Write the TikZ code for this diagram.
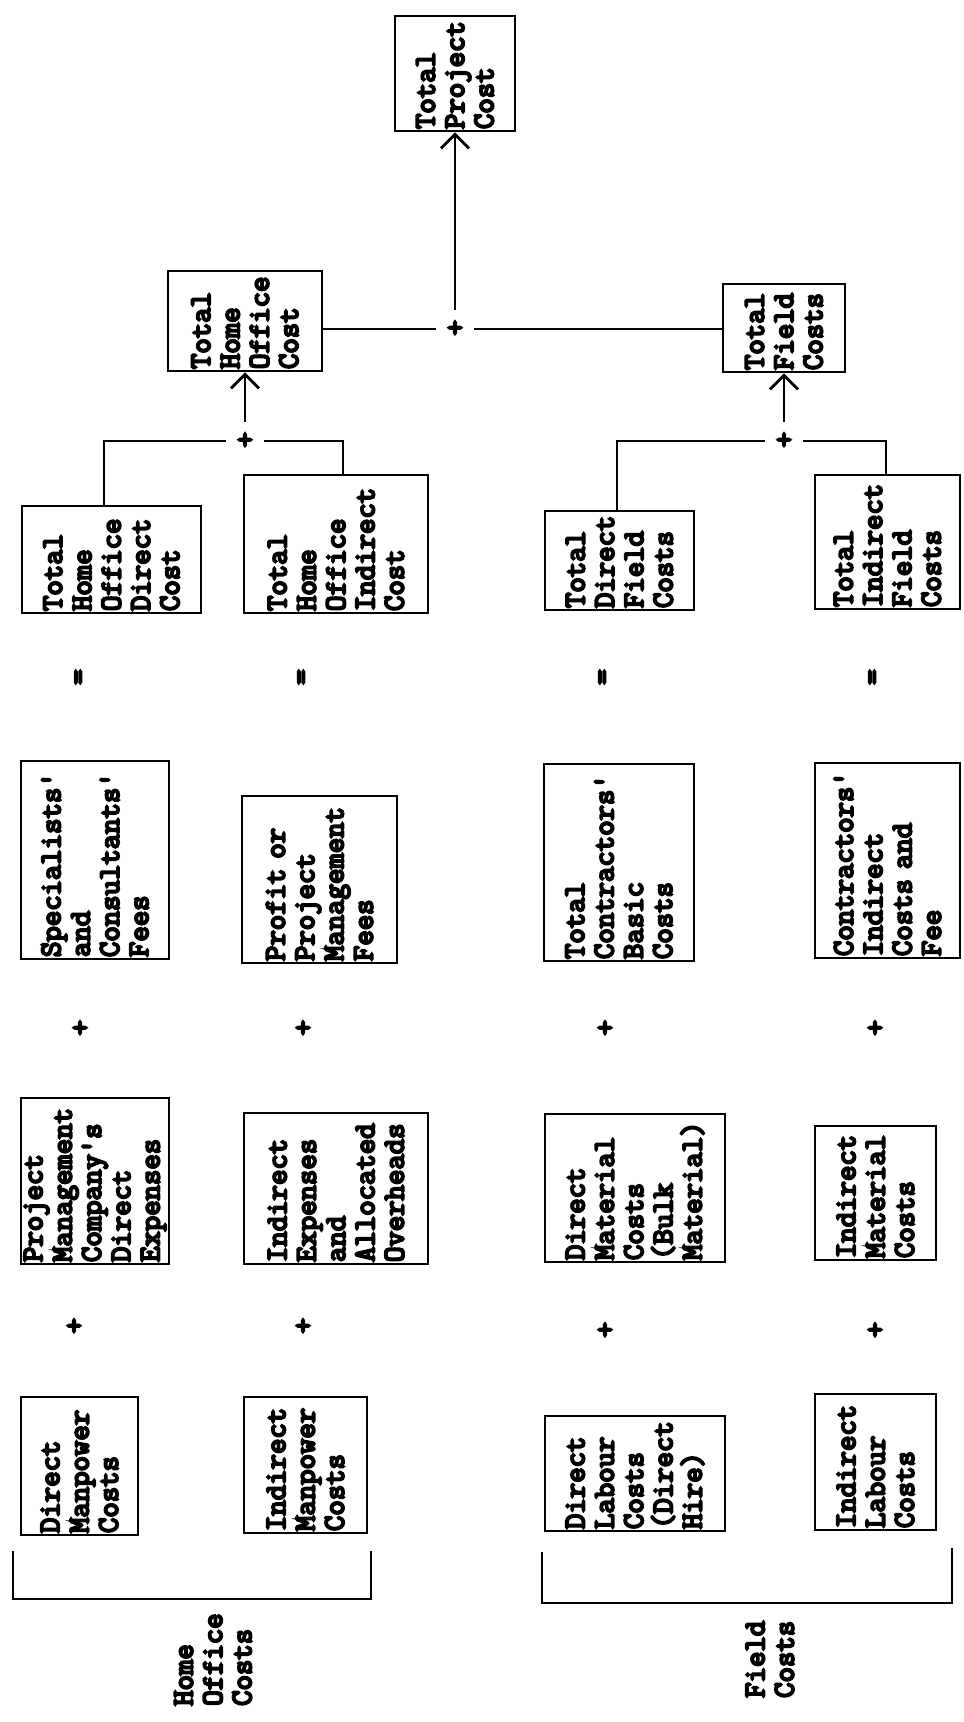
\documentclass[tikz,border=0pt]{standalone}
\usepackage{fontspec}
\newfontfamily\twfont{Latin Modern Mono}[FakeBold=7]
\usetikzlibrary{arrows.meta}
\newcommand\boxfont{\twfont\fontsize{29.9pt}{29.3pt}\selectfont\hyphenpenalty=10000\exhyphenpenalty=10000}
\newcommand\cbox[6]{%
  \pgfmathsetmacro\cbxc{(#2+#3)/2}%
  \pgfmathsetmacro\cbyc{(#4+#5)/2}%
  \pgfmathsetmacro\cbw{#3-#2}%
  \pgfmathsetmacro\cbh{#5-#4}%
  \pgfmathsetmacro\cbt{#5-#4-4}%
  \node[box,text width=\cbt pt,minimum width=\cbh pt,minimum height=\cbw pt] (#1) at (\cbxc,\cbyc) {#6};}
\begin{document}
\begin{tikzpicture}[x=1pt,y=-1pt,
  box/.style={draw,line width=2.8pt,rotate=90,align=left,inner xsep=2pt,inner ysep=0pt,font=\boxfont},
  plus/.style={circle,minimum size=38pt,inner sep=0pt,font=\boxfont},
  sign/.style={inner sep=0pt,font=\boxfont},
  conn/.style={line width=2.8pt},
  arr/.style={conn,-{Straight Barb[length=14pt,width=28pt]}},
  lab/.style={rotate=90,align=left,inner sep=0pt,anchor=west,font=\boxfont}]
\useasboundingbox (0,0) rectangle (964,1722);
% level 0 and 1
\cbox{TPC}{395}{515}{16}{131}{Total\\Project\\Cost}
\cbox{THOC}{168}{322}{271}{371}{Total\\Home\\Office\\Cost}
\cbox{TFC}{723}{845}{284}{372}{Total\\Field\\Costs}
% level 2
\cbox{THODC}{22}{201}{506}{613}{Total\\Home\\Office\\Direct\\Cost}
\cbox{THOIC}{244}{428}{475}{613}{Total\\Home\\Office\\Indirect\\Cost}
\cbox{TDFC}{545}{694}{511}{610}{Total\\Direct\\Field\\Costs}
\cbox{TIFC}{815}{960}{475}{609}{Total\\Indirect\\Field\\Costs}
% row A
\cbox{SCF}{21}{169}{761}{959}{Specialists'\\and\\Consultants'\\Fees}
\cbox{PPM}{242}{397}{796}{963}{Profit or\\Project\\Management\\Fees}
\cbox{TCB}{544}{694}{764}{961}{Total\\Contractors'\\Basic\\Costs}
\cbox{CIC}{815}{960}{763}{958}{Contractors'\\Indirect\\Costs and\\Fee}
% row B
\cbox{PMC}{21}{169}{1098}{1264}{Project\\Management\\Company's\\Direct\\Expenses}
\cbox{IEA}{244}{428}{1113}{1264}{Indirect\\Expenses\\and\\Allocated\\Overheads}
\cbox{DMC}{545}{725}{1114}{1262}{Direct\\Material\\Costs\\(Bulk\\Material)}
\cbox{IMC}{815}{936}{1126}{1260}{Indirect\\Material\\Costs}
% row C
\cbox{DMP}{21}{138}{1397}{1535}{Direct\\Manpower\\Costs}
\cbox{IMP}{244}{367}{1397}{1533}{Indirect\\Manpower\\Costs}
\cbox{DLC}{545}{725}{1416}{1531}{Direct\\Labour\\Costs\\(Direct\\Hire)}
\cbox{ILC}{815}{936}{1394}{1530}{Indirect\\Labour\\Costs}
% junctions
\node[plus] (J1) at (455,329) {+};
\draw[conn] (J1) -- (J1 -| THOC.south);
\draw[conn] (J1) -- (J1 -| TFC.north);
\draw[arr] (J1) -- (J1 |- TPC.west);
\node[plus] (J2) at (245,441) {+};
\draw[arr] (J2) -- (J2 |- THOC.west);
\draw[conn] (J2) -| ([xshift=-7.5pt]THODC.east);
\draw[conn] (J2) -| ([xshift=7pt]THOIC.east);
\node[plus] (J3) at (784,441) {+};
\draw[arr] (J3) -- (J3 |- TFC.west);
\draw[conn] (J3) -| ([xshift=-2.5pt]TDFC.east);
\draw[conn] (J3) -| ([xshift=-1.5pt]TIFC.east);
% equals and plus signs
\node[sign,rotate=90] (E1) at (81,677) {=};
\node[sign,rotate=90] (E2) at (304,677) {=};
\node[sign,rotate=90] (E3) at (605,677) {=};
\node[sign,rotate=90] (E4) at (875,677) {=};
\node[sign] (PA1) at (80,1029) {+};
\node[sign] (PA2) at (303,1029) {+};
\node[sign] (PA3) at (605,1029) {+};
\node[sign] (PA4) at (875,1029) {+};
\node[sign] (PB1) at (74,1327) {+};
\node[sign] (PB2) at (303,1327) {+};
\node[sign] (PB3) at (605,1331) {+};
\node[sign] (PB4) at (875,1331) {+};
% brackets
\coordinate (HL) at (13,1551);
\coordinate (HR) at (371,1551);
\coordinate (FL) at (542,1552);
\coordinate (FR) at (952,1548);
\draw[conn] (HL) -- ++(0,48) -| (HR);
\draw[conn] (FL) -- ++(0,51) -| (FR);
% labels
\node[lab] (HOC) at (213,1706) {Home\\Office\\Costs};
\node[lab] (FC) at (770,1698) {Field\\Costs};
\end{tikzpicture}
\end{document}
